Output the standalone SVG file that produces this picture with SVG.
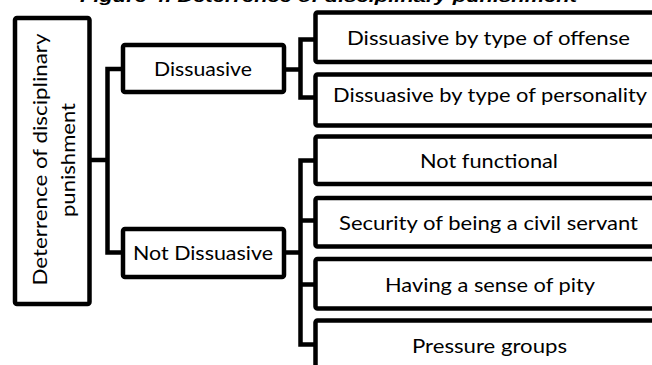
<svg xmlns="http://www.w3.org/2000/svg" width="652" height="365" viewBox="0 0 652 365">
<style>
.box{fill:#fff;stroke:#000;stroke-width:4.5;stroke-linejoin:round}
.con{fill:none;stroke:#000;stroke-width:4.5;stroke-linejoin:miter;stroke-linecap:square}
.t{font-family:Lato,"Liberation Sans",sans-serif;font-size:19px;fill:#000;text-anchor:middle}
.title{font-family:"Liberation Sans",sans-serif;font-size:17px;font-weight:bold;font-style:italic;fill:#000}
</style>
<rect width="652" height="365" fill="#fff"/>
<text class="title" x="80" y="2" textLength="497" lengthAdjust="spacingAndGlyphs">Figure 4. Deterrence of disciplinary punishment</text>
<g id="connectors">
<path class="con" d="M91 160 H107.5 M123 69 H107.5 V252.5 H123"/>
<path class="con" d="M284 69.5 H300.5 M315.5 39.5 H300.5 V97.5 H315.5"/>
<path class="con" d="M284 252.5 H300.5 M315.5 160.5 H300.5 V344.5 H315.5 M300.5 220.5 H315.5 M300.5 284.5 H315.5"/>
</g>
<g id="root">
<rect class="box" x="15" y="18" width="74.5" height="286" rx="2"/>
<text class="t" transform="translate(47,159.5) rotate(-90)" textLength="252" lengthAdjust="spacingAndGlyphs">Deterrence of disciplinary</text>
<text class="t" transform="translate(75,160) rotate(-90)" textLength="114" lengthAdjust="spacingAndGlyphs">punishment</text>
</g>
<g id="dissuasive">
<rect class="box" x="123" y="45" width="161" height="47" rx="2"/>
<text class="t" x="203" y="76" textLength="98" lengthAdjust="spacingAndGlyphs">Dissuasive</text>
</g>
<g id="not-dissuasive">
<rect class="box" x="123" y="229" width="161" height="48" rx="2"/>
<text class="t" x="203" y="260" textLength="140" lengthAdjust="spacingAndGlyphs">Not Dissuasive</text>
</g>
<g id="offense">
<rect class="box" x="315.5" y="12.5" width="345" height="49.5" rx="2"/>
<text class="t" x="488.5" y="45" textLength="283" lengthAdjust="spacingAndGlyphs">Dissuasive by type of offense</text>
</g>
<g id="personality">
<rect class="box" x="315.5" y="74.5" width="345" height="51" rx="2"/>
<text class="t" x="490" y="102" textLength="314" lengthAdjust="spacingAndGlyphs">Dissuasive by type of personality</text>
</g>
<g id="not-functional">
<rect class="box" x="315.5" y="136.5" width="345" height="47.5" rx="2"/>
<text class="t" x="489" y="167.5" textLength="138" lengthAdjust="spacingAndGlyphs">Not functional</text>
</g>
<g id="security">
<rect class="box" x="315.5" y="198" width="345" height="48.5" rx="2"/>
<text class="t" x="488.5" y="230" textLength="299" lengthAdjust="spacingAndGlyphs">Security of being a civil servant</text>
</g>
<g id="pity">
<rect class="box" x="315.5" y="259" width="345" height="49.5" rx="2"/>
<text class="t" x="490" y="292" textLength="210" lengthAdjust="spacingAndGlyphs">Having a sense of pity</text>
</g>
<g id="pressure">
<rect class="box" x="315.5" y="320.5" width="345" height="49" rx="2"/>
<text class="t" x="489.5" y="353" textLength="155" lengthAdjust="spacingAndGlyphs">Pressure groups</text>
</g>
</svg>
